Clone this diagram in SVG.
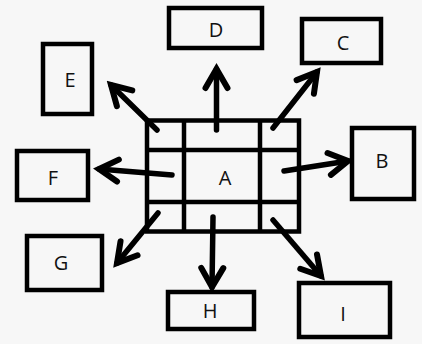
<svg xmlns="http://www.w3.org/2000/svg" width="422" height="344" viewBox="0 0 422 344">
<style>
.box{fill:none;stroke:#000;stroke-width:4.5}
.grid{fill:none;stroke:#000;stroke-width:4.5}
.lbl{font-family:"Open Sans","Liberation Sans",Arial,sans-serif;font-size:20px;fill:#111;text-anchor:middle}
.arr{fill:none;stroke:#000;stroke-width:5.5;stroke-linecap:round;marker-end:url(#head)}
</style>
<defs>
<marker id="head" markerUnits="userSpaceOnUse" viewBox="-26 -16 32 32" markerWidth="32" markerHeight="32" refX="0" refY="0" orient="auto">
<path d="M-19 -11 L0 0 L-19 11" fill="none" stroke="#000" stroke-width="6" stroke-linecap="round" stroke-linejoin="miter"/>
</marker>
</defs>
<rect width="422" height="344" fill="#f7f7f7"/>
<g id="A">
<rect class="grid" x="147" y="120.5" width="152" height="111"/>
<line class="grid" x1="184" y1="120.5" x2="184" y2="231.5"/>
<line class="grid" x1="260" y1="120.5" x2="260" y2="231.5"/>
<line class="grid" x1="147" y1="150" x2="299" y2="150"/>
<line class="grid" x1="147" y1="202" x2="299" y2="202"/>
<text class="lbl" x="225" y="185">A</text>
</g>
<g id="B"><rect class="box" x="352" y="128" width="62" height="71"/><text class="lbl" x="382" y="168">B</text></g>
<g id="C"><rect class="box" x="302" y="19" width="79" height="44"/><text class="lbl" x="343" y="50">C</text></g>
<g id="D"><rect class="box" x="169" y="8" width="93" height="40"/><text class="lbl" x="216" y="37">D</text></g>
<g id="E"><rect class="box" x="43" y="44" width="49" height="70"/><text class="lbl" x="70" y="87">E</text></g>
<g id="F"><rect class="box" x="17" y="151" width="71" height="49"/><text class="lbl" x="53" y="185">F</text></g>
<g id="G"><rect class="box" x="27" y="236" width="75" height="54"/><text class="lbl" x="61" y="270">G</text></g>
<g id="H"><rect class="box" x="168" y="292" width="86" height="37"/><text class="lbl" x="210" y="318">H</text></g>
<g id="I"><rect class="box" x="299" y="283" width="91" height="54"/><text class="lbl" x="343" y="321">I</text></g>
<g id="connectors">
<line class="arr" x1="157" y1="130" x2="111" y2="85"/>
<line class="arr" x1="216.5" y1="130" x2="216.5" y2="69"/>
<line class="arr" x1="273" y1="128" x2="317" y2="72"/>
<line class="arr" x1="284" y1="171" x2="348" y2="161"/>
<line class="arr" x1="172" y1="175" x2="99" y2="169"/>
<line class="arr" x1="158" y1="213" x2="117" y2="263"/>
<line class="arr" x1="213" y1="217" x2="212" y2="287"/>
<line class="arr" x1="273" y1="220" x2="321" y2="276"/>
</g>
</svg>
